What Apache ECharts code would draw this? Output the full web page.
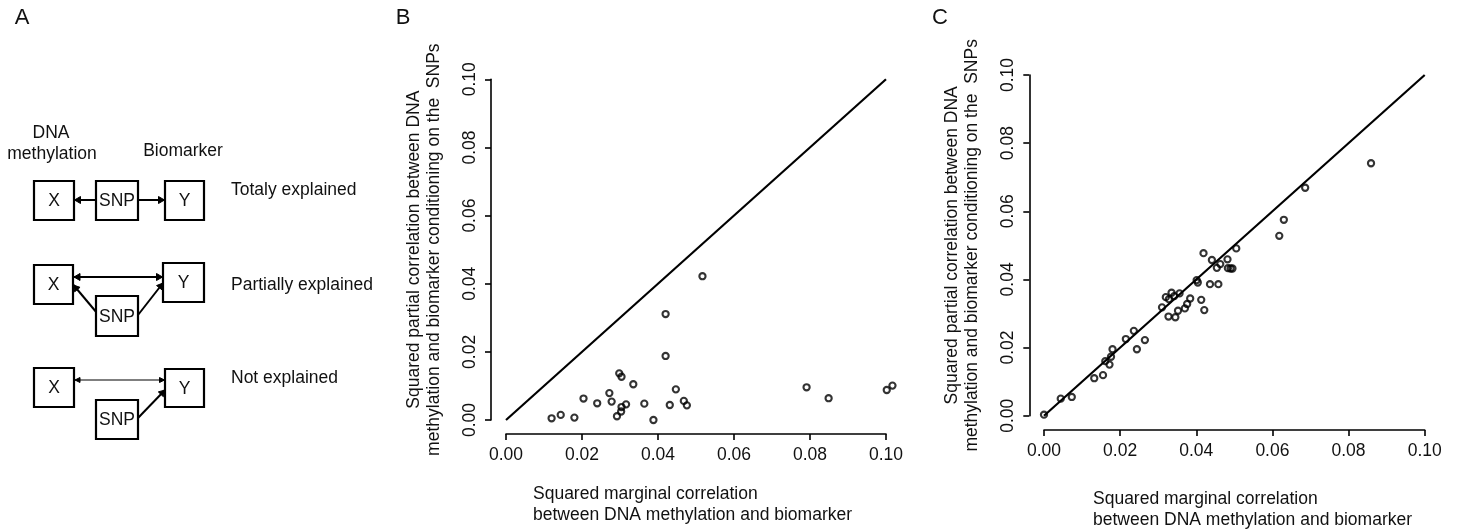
<!DOCTYPE html>
<html>
<head>
<meta charset="utf-8">
<script src="https://cdn.jsdelivr.net/npm/echarts@6/dist/echarts.min.js"></script>
<style>html,body{margin:0;padding:0;background:#fff;}#chart{width:1465px;height:529px;}</style>
</head>
<body>
<div id="chart"></div>
<script>
// ---- data ----
const panelLetters = ['A', 'B', 'C'];
const xTitle = 'Squared marginal correlation\nbetween DNA methylation and biomarker';
const yTitle = 'Squared partial correlation between DNA\nmethylation and biomarker conditioning on the  SNPs';
const tickValues = [0.00, 0.02, 0.04, 0.06, 0.08, 0.10];
const diagX = [0, 0.1];
const diagY = [0, 0.1];

// Panel B: marginal (x) vs partial (y)
const bX = [0.0517, 0.0420, 0.0420, 0.0298, 0.0304, 0.0335, 0.0447, 0.0272, 0.0204, 0.0240,
            0.0278, 0.0316, 0.0304, 0.0303, 0.0292, 0.0364, 0.0388, 0.0431, 0.0468, 0.0476,
            0.0120, 0.0144, 0.0180, 0.0791, 0.0849, 0.1002, 0.1017];
const bY = [0.0422, 0.0311, 0.0188, 0.0137, 0.0127, 0.0105, 0.0090, 0.0079, 0.0063, 0.0049,
            0.0054, 0.0046, 0.0038, 0.0025, 0.0011, 0.0048, 0.0000, 0.0044, 0.0056, 0.0043,
            0.0005, 0.0015, 0.0007, 0.0096, 0.0064, 0.0088, 0.0101];

// Panel C
const cX = [0.0000, 0.0044, 0.0073, 0.0132, 0.0155, 0.0161, 0.0172, 0.0176, 0.0180, 0.0215,
            0.0236, 0.0244, 0.0265, 0.0310, 0.0320, 0.0328, 0.0335, 0.0342, 0.0356, 0.0327,
            0.0345, 0.0352, 0.0370, 0.0376, 0.0384, 0.0401, 0.0404, 0.0413, 0.0421, 0.0419,
            0.0436, 0.0458, 0.0441, 0.0454, 0.0463, 0.0482, 0.0483, 0.0490, 0.0495, 0.0505,
            0.0618, 0.0630, 0.0686, 0.0859];
const cY = [0.0003, 0.0050, 0.0055, 0.0110, 0.0119, 0.0160, 0.0150, 0.0173, 0.0195, 0.0225,
            0.0249, 0.0195, 0.0222, 0.0318, 0.0348, 0.0342, 0.0361, 0.0351, 0.0359, 0.0291,
            0.0289, 0.0308, 0.0315, 0.0328, 0.0344, 0.0398, 0.0391, 0.0340, 0.0310, 0.0477,
            0.0386, 0.0386, 0.0457, 0.0434, 0.0445, 0.0459, 0.0433, 0.0432, 0.0432, 0.0491,
            0.0528, 0.0575, 0.0669, 0.0741];

// ---- build ----
const FONT = "'Liberation Sans', Arial, Helvetica, sans-serif";
const FS = 17.5;
const INK = '#000';
const zip = (a, b) => a.map((v, i) => [v, b[i]]);

function xAxisCfg(gi, off) {
  return {
    gridIndex: gi, type: 'value', min: 0, max: 0.1, interval: 0.02, offset: off,
    axisLine: { show: true, onZero: false, lineStyle: { color: INK, width: 1.6 } },
    axisTick: { show: true, length: 6, lineStyle: { color: INK, width: 1.6 } },
    axisLabel: { margin: 12, fontSize: FS, fontFamily: FONT, color: '#111', formatter: v => v.toFixed(2) },
    splitLine: { show: false }
  };
}
function yAxisCfg(gi, off) {
  return {
    gridIndex: gi, type: 'value', min: 0, max: 0.1, interval: 0.02, offset: off,
    axisLine: { show: true, onZero: false, lineStyle: { color: INK, width: 1.6 } },
    axisTick: { show: true, length: 6, lineStyle: { color: INK, width: 1.6 } },
    axisLabel: { margin: 12, rotate: 90, fontSize: FS, fontFamily: FONT, color: '#111', formatter: v => v.toFixed(2) },
    splitLine: { show: false },
    name: yTitle, nameLocation: 'middle', nameRotate: 90, nameGap: 47,
    nameTextStyle: { fontSize: FS, fontFamily: FONT, color: '#111', lineHeight: 20 }
  };
}

// diagram helpers (panel A)
const graphics = [];
function txt(s, x, y, align, size) {
  graphics.push({ type: 'text', x: x, y: y, silent: true,
    style: { text: s, fontSize: size || FS, fontFamily: FONT, fill: '#111',
      align: align || 'center', textAlign: align || 'center', verticalAlign: 'middle', textVerticalAlign: 'middle' } });
}
function box(x, y, w, h, label) {
  graphics.push({ type: 'rect', shape: { x: x, y: y, width: w, height: h },
    style: { fill: '#fff', stroke: INK, lineWidth: 2.2 } });
  txt(label, x + w / 2, y + h / 2 + 1, 'center');
}
function head(x1, y1, x2, y2, len, wid) {
  const a = Math.atan2(y2 - y1, x2 - x1);
  const bx = x2 - len * Math.cos(a), by = y2 - len * Math.sin(a);
  const nx = -Math.sin(a) * wid, ny = Math.cos(a) * wid;
  graphics.push({ type: 'polygon', shape: { points: [[x2, y2], [bx + nx, by + ny], [bx - nx, by - ny]] },
    style: { fill: INK, stroke: INK, lineWidth: 1 } });
}
function arrow(x1, y1, x2, y2, lw, both, len, wid) {
  graphics.push({ type: 'line', shape: { x1: x1, y1: y1, x2: x2, y2: y2 }, style: { stroke: INK, lineWidth: lw } });
  head(x1, y1, x2, y2, len, wid);
  if (both) head(x2, y2, x1, y1, len, wid);
}

// panel letters
txt(panelLetters[0], 22, 18, 'center', 22);
txt(panelLetters[1], 403, 18, 'center', 22);
txt(panelLetters[2], 940, 18, 'center', 22);

// panel A
txt('DNA', 51, 133);
txt('methylation', 52, 154);
txt('Biomarker', 183, 151);

// row 1
arrow(96, 200, 74.5, 200, 2, false, 6, 3.5);
arrow(138, 200, 164.5, 200, 2, false, 6, 3.5);
box(34, 181, 40, 39, 'X');
box(96, 181, 42, 39, 'SNP');
box(165, 181, 39, 39, 'Y');
txt('Totaly explained', 231, 190, 'left');

// row 2
arrow(74, 277, 162.5, 277, 2, true, 6, 3.5);
arrow(97, 313, 73.5, 285, 2, false, 6, 3.5);
arrow(138, 315, 163, 283, 2, false, 6, 3.5);
box(34, 265, 39, 39, 'X');
box(163, 263, 41, 39, 'Y');
box(96, 296, 42, 40, 'SNP');
txt('Partially explained', 231, 285, 'left');

// row 3
arrow(75, 380, 164.5, 380, 1.2, true, 5, 2.5);
arrow(138, 418, 165, 390, 2, false, 6, 3.5);
box(34, 368, 40, 39, 'X');
box(165, 369, 39, 38, 'Y');
box(96, 400, 42, 39, 'SNP');
txt('Not explained', 231, 378, 'left');

// x-axis titles (left-aligned two-line text)
function xt(x, y) {
  graphics.push({ type: 'text', x: x, y: y, silent: true,
    style: { text: xTitle, fontSize: FS, fontFamily: FONT, fill: '#111', lineHeight: 21,
      align: 'left', textAlign: 'left', verticalAlign: 'top', textVerticalAlign: 'top' } });
}
xt(533, 484);
xt(1093, 488.5);

const scatterStyle = { color: 'rgba(0,0,0,0)', borderColor: INK, borderWidth: 2.1 };

const option = {
  animation: false,
  backgroundColor: '#fff',
  grid: [
    { left: 506, top: 79.3, width: 380, height: 340.7 },
    { left: 1044, top: 75, width: 380.7, height: 340.7 }
  ],
  xAxis: [xAxisCfg(0, 14), xAxisCfg(1, 14.3)],
  yAxis: [yAxisCfg(0, 15), yAxisCfg(1, 14.7)],
  series: [
    { type: 'line', xAxisIndex: 0, yAxisIndex: 0, data: zip(diagX, diagY), symbol: 'none', clip: false,
      lineStyle: { color: INK, width: 2.2 } },
    { type: 'scatter', xAxisIndex: 0, yAxisIndex: 0, data: zip(bX, bY), symbol: 'circle', symbolSize: 6.2,
      clip: false, itemStyle: scatterStyle },
    { type: 'line', xAxisIndex: 1, yAxisIndex: 1, data: zip(diagX, diagY), symbol: 'none', clip: false,
      lineStyle: { color: INK, width: 2.2 } },
    { type: 'scatter', xAxisIndex: 1, yAxisIndex: 1, data: zip(cX, cY), symbol: 'circle', symbolSize: 6.2,
      clip: false, itemStyle: scatterStyle }
  ],
  graphic: graphics
};

const chart = echarts.init(document.getElementById('chart'), null, { renderer: 'canvas' });
chart.setOption(option);
</script>
</body>
</html>
